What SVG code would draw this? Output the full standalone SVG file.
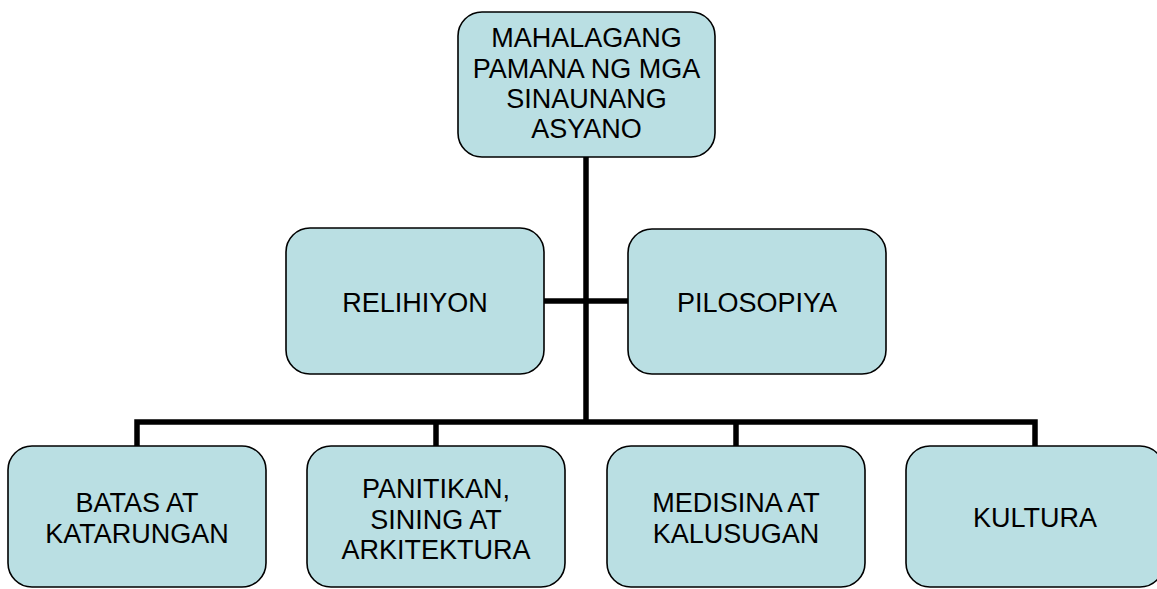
<svg xmlns="http://www.w3.org/2000/svg" width="1157" height="589" viewBox="0 0 1157 589">
<style>
.box{fill:#BADFE3;stroke:#000;stroke-width:1.6}
.t{font-family:"Liberation Sans",Arial,sans-serif;font-size:27px;fill:#000;text-anchor:middle}
.c{stroke:#000;stroke-width:5.5;fill:none}
</style>
<rect width="1157" height="589" fill="#fff"/>
<g id="connectors">
<path class="c" d="M586 157 V422"/>
<path class="c" d="M544 301 H628"/>
<path class="c" d="M137 446 V422 H1035 V446"/>
<path class="c" d="M436 422 V446"/>
<path class="c" d="M736 422 V446"/>
</g>
<g id="root">
<rect class="box" x="458" y="12" width="257" height="145" rx="24"/>
<text class="t" x="586.5" y="47">MAHALAGANG</text>
<text class="t" x="586.5" y="78">PAMANA NG MGA</text>
<text class="t" x="586.5" y="108">SINAUNANG</text>
<text class="t" x="586.5" y="138">ASYANO</text>
</g>
<g id="relihiyon">
<rect class="box" x="286" y="228" width="258" height="146" rx="24"/>
<text class="t" x="415" y="312">RELIHIYON</text>
</g>
<g id="pilosopiya">
<rect class="box" x="628" y="229" width="258" height="145" rx="24"/>
<text class="t" x="757" y="312">PILOSOPIYA</text>
</g>
<g id="batas">
<rect class="box" x="8" y="446" width="258" height="141" rx="24"/>
<text class="t" x="137" y="512">BATAS AT</text>
<text class="t" x="137" y="543">KATARUNGAN</text>
</g>
<g id="panitikan">
<rect class="box" x="307" y="446" width="258" height="141" rx="24"/>
<text class="t" x="436" y="498">PANITIKAN,</text>
<text class="t" x="436" y="529">SINING AT</text>
<text class="t" x="436" y="559">ARKITEKTURA</text>
</g>
<g id="medisina">
<rect class="box" x="607" y="446" width="258" height="141" rx="24"/>
<text class="t" x="736" y="512">MEDISINA AT</text>
<text class="t" x="736" y="543">KALUSUGAN</text>
</g>
<g id="kultura">
<rect class="box" x="906" y="446" width="258" height="141" rx="24"/>
<text class="t" x="1035" y="527">KULTURA</text>
</g>
</svg>
